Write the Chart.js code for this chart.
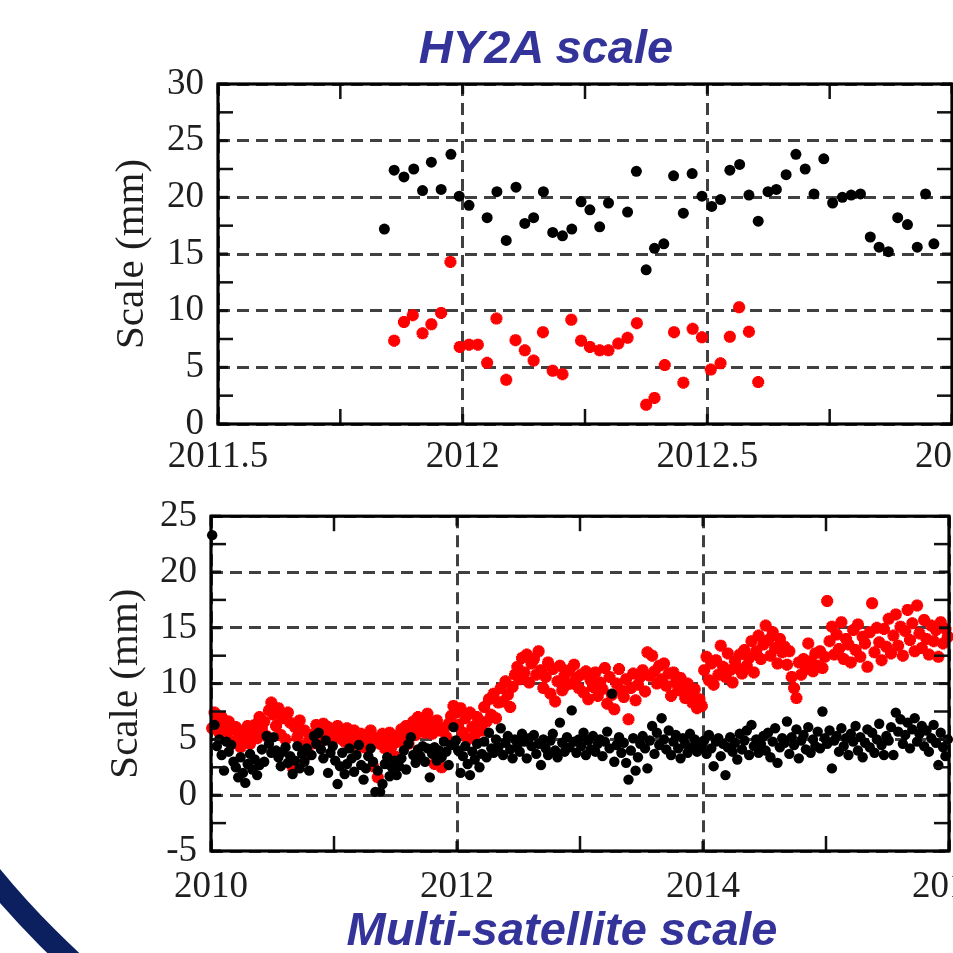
<!DOCTYPE html>
<html>
<head>
<meta charset="utf-8">
<script src="https://cdn.jsdelivr.net/npm/chart.js@4/dist/chart.umd.min.js"></script>
<style>
  html, body { margin: 0; padding: 0; background: #fff; width: 953px; height: 953px; overflow: hidden; }
  .wrap { position: absolute; left: 0; }
  .ttl { position: absolute; font-family: "Liberation Sans", Arial, sans-serif; font-weight: bold; font-style: italic;
         font-size: 47px; line-height: 47px; color: #333399; white-space: nowrap; transform: translateX(-50%); z-index: 5; }
  #deco { position: absolute; left: 0; top: 0; z-index: 6; pointer-events: none; }
</style>
</head>
<body>
<div class="ttl" style="left:546px; top:23px;">HY2A scale</div>
<div class="ttl" style="left:562px; top:905px;">Multi-satellite scale</div>
<div class="wrap" style="top:0"><canvas id="c1" width="1000" height="480"></canvas></div>
<div class="wrap" style="top:480px"><canvas id="c2" width="1000" height="473"></canvas></div>
<svg id="deco" width="953" height="953"><circle cx="635" cy="350" r="831" fill="none" stroke="#0c1f5e" stroke-width="22"/></svg>
<script>
// ---------------- HY2A scale (top panel) ----------------
const hyBlackDates = [2011.840,2011.860,2011.880,2011.900,2011.918,2011.936,2011.956,2011.976,2011.993,2012.013,
  2012.050,2012.070,2012.089,2012.109,2012.127,2012.145,2012.165,2012.184,2012.204,2012.223,
  2012.242,2012.260,2012.280,2012.298,2012.337,2012.355,2012.375,2012.392,2012.411,2012.431,
  2012.451,2012.469,2012.489,2012.509,2012.527,2012.546,2012.566,2012.585,2012.604,2012.624,
  2012.641,2012.661,2012.681,2012.700,2012.718,2012.738,2012.756,2012.776,2012.794,2012.813,
  2012.833,2012.851,2012.870,2012.889,2012.909,2012.929,2012.946,2012.963];
const hyBlackScale = [17.2,22.4,21.8,22.5,20.6,23.1,20.7,23.8,20.1,19.3,
  18.2,20.5,16.2,20.9,17.7,18.2,20.5,16.9,16.6,17.2,
  19.6,18.9,17.4,19.5,18.7,22.3,13.6,15.5,15.9,21.9,
  18.6,22.1,20.1,19.2,19.8,22.4,22.9,20.2,17.9,20.5,
  20.7,22.0,23.8,22.5,20.3,23.4,19.5,20.0,20.2,20.3,
  16.5,15.6,15.2,18.2,17.6,15.6,20.3,15.9];
const hyRedDates = [2011.860,2011.880,2011.898,2011.918,2011.936,2011.956,2011.975,2011.994,2012.013,2012.031,
  2012.050,2012.069,2012.089,2012.108,2012.127,2012.145,2012.164,2012.184,2012.204,2012.222,
  2012.242,2012.260,2012.280,2012.298,2012.318,2012.337,2012.356,2012.375,2012.392,2012.413,
  2012.432,2012.451,2012.470,2012.489,2012.507,2012.527,2012.546,2012.565,2012.585,2012.604];
const hyRedScale = [7.35,9.0,9.6,8.0,8.8,9.8,14.3,6.8,7.0,7.0,
  5.4,9.3,3.9,7.4,6.5,5.6,8.1,4.7,4.4,9.2,
  7.35,6.8,6.5,6.5,7.1,7.6,8.9,1.7,2.3,5.2,
  8.1,3.65,8.4,7.65,4.8,5.35,7.7,10.3,8.15,3.7];
const hyXTicksMinor = [2011.75, 2012.25, 2012.75];
const hyYTicksMinor = [2.5, 7.5, 12.5, 17.5, 22.5, 27.5];

// ---------------- Multi-satellite scale (bottom panel), weekly values per year ----------------
const msYears = [2010, 2011, 2012, 2013, 2014, 2015];
const msRed2010 = [6.0,7.4,6.8,5.6,7.0,6.3,5.4,6.6,5.9, 4.8,6.1,5.2,4.3,5.7,5.0,6.2,4.6,5.5, 6.3,5.1,7.0,6.0,6.6,5.3,7.6,8.3,
  7.2,6.2,7.8,5.4,6.9,5.0,7.4,6.5, 2.5,6.1,5.2,6.7,4.4,5.8,3.6,5.0, 4.6,5.5,6.3,5.9,4.8,6.4,5.7,6.1,5.2,5.8];
const msRed2011 = [5.7,6.2,5.1,5.6,4.8,6.0,5.4,4.5,5.8,5.2,4.9,5.5,4.3, 5.3,4.7,5.8,2.6,5.1,1.6,4.6,5.5,4.2,5.0,5.6,4.4,3.5,
  5.3,4.8,5.9,5.2,6.2,4.6,5.7,6.6,5.4,7.0,6.1,6.8,5.6, 7.3,6.4,5.5,2.8,6.7,5.8,2.5,6.0,5.2,6.4,7.1,8.0,7.4];
const msRed2012 = [6.3,7.8,5.6,6.9,5.0,7.4,6.1,5.4,7.0,6.5,5.8, 7.9,6.6,8.6,7.2,9.1,6.9,8.3,9.6, 8.4,10.2,9.0,7.9,9.7,10.8,
  11.5,10.4,12.3,11.0,12.6,10.1,11.8, 12.2,10.8,12.9,11.2,9.6,10.6,11.9, 9.1,11.3,8.4,10.2,11.6,9.4,10.8,9.9, 11.2,10.0,11.7,10.5,9.6];
const msRed2013 = [10.8,9.2,11.1,8.6,10.3,9.7,11.0,8.9,10.1, 9.5,11.4,8.2,10.6,9.0,7.7,10.0,11.3,9.4, 8.8,10.4,6.8,9.6,10.9,8.5,9.9,10.6,
  11.2,9.3,12.8,10.7,12.5,11.1,10.0,11.6, 10.4,11.8,9.8,10.9,8.9,11.0,10.1,9.4,10.5, 9.6,8.7,10.0,9.1,8.3,9.5,7.8,8.6,8.0];
const msRed2014 = [11.2,12.4,10.3,11.8,9.9,12.1,10.8,13.4,11.5, 10.6,12.7,11.2,10.1,12.0,11.4,12.6,10.9,13.0, 11.6,12.3,13.8,11.0,12.9,14.3,12.2,13.5,
  15.2,13.9,12.5,14.6,13.2,11.8,14.0,12.8, 13.3,11.7,12.9,10.6,9.6,8.7,11.9,10.8, 12.2,11.3,13.6,12.0,11.1,12.7,11.6,12.9,11.4,12.4];
const msRed2015 = [17.4,13.8,15.1,12.6,14.4,13.1,15.5,12.2,14.0, 13.5,11.9,14.8,13.0,15.3,12.4,14.2,13.6,11.5, 14.6,17.2,12.8,15.0,13.7,12.1,14.9,13.3,
  15.8,12.7,14.3,16.2,13.4,15.1,12.5,14.7, 16.6,13.9,15.4,12.9,17.0,14.5,13.2,15.7, 14.0,12.6,15.2,13.8,14.8,12.4,15.5,13.6,14.9,14.2];
const msBlack2010 = [23.3,6.3,4.4,5.0,3.6,2.2,4.8,3.9,4.5, 3.0,2.5,1.6,3.4,2.0,1.1,2.8,3.7,2.3, 3.2,1.8,2.7,4.1,3.0,5.3,4.6,3.8,
  5.2,4.0,3.4,2.6,3.9,4.3,2.9,3.5, 1.9,3.1,4.4,2.4,3.7,3.0,4.2,2.2, 3.6,5.3,4.6,5.6,4.1,3.3,4.9,2.0,3.8,4.4];
const msBlack2011 = [3.1,1.0,2.6,3.8,1.9,2.8,4.2,3.3,2.1,3.6,4.5,2.7,1.4, 2.4,3.5,4.2,3.0,0.3,2.2,0.3,1.0,2.8,3.4,1.7,2.5,3.1,
  1.8,2.6,3.3,4.0,2.3,4.6,5.2,3.6,2.9,4.1,3.5,4.4,3.0, 4.2,1.6,3.7,4.3,3.1,4.0,3.4,4.8,3.9,2.7,4.5,6.1,4.9];
const msBlack2012 = [4.0,2.0,3.5,4.4,2.8,1.8,3.9,3.2,4.6,2.5,3.7, 4.8,3.4,5.6,4.2,3.8,5.0,4.3,6.0, 3.6,4.7,5.3,4.1,3.3,5.0,
  4.5,3.9,5.5,4.8,3.3,5.1,4.4, 5.4,3.7,4.6,2.7,5.0,4.2,3.6, 4.9,5.5,4.0,3.4,6.5,4.7,3.9,5.2, 4.3,7.6,4.8,3.8,5.0];
const msBlack2013 = [4.4,5.6,3.6,4.9,4.1,5.3,3.9,4.6,5.0, 3.5,4.8,5.7,4.2,9.1,3.0,4.5,5.2,3.8, 4.7,2.9,1.4,4.0,5.1,2.2,3.4,4.6,
  5.3,4.2,2.4,4.9,6.2,3.7,5.6,4.5, 6.9,5.0,4.1,5.8,3.6,4.8,5.4,4.2,3.3, 5.1,4.6,3.8,5.5,4.3,5.0,3.9,4.7,4.4];
const msBlack2014 = [4.9,3.7,5.4,4.2,2.6,4.8,5.1,3.5,4.6, 1.8,4.3,5.2,3.9,4.7,3.2,5.5,4.1,4.9, 5.8,3.6,6.3,4.4,5.0,3.8,4.6,5.3,
  4.0,5.6,3.4,4.8,6.0,2.9,4.3,5.1, 4.7,6.6,3.7,5.2,4.5,5.9,3.3,4.9, 5.4,4.1,6.1,3.8,5.0,4.4,5.7,4.2,7.5,5.1];
const msBlack2015 = [4.6,5.8,2.4,4.9,5.3,3.9,6.0,4.4,5.1, 3.6,5.5,4.8,6.2,4.0,5.2,3.4,4.7,5.9, 4.3,5.6,3.8,5.0,6.4,4.5,3.6,5.3,
  4.9,6.1,3.6,7.4,5.7,6.8,4.6,5.4, 6.5,4.2,5.9,6.9,4.8,5.5,6.2,4.4, 5.8,3.9,5.1,6.3,4.7,2.7,5.6,4.3,3.5,5.0];
const msRedByYear = [msRed2010, msRed2011, msRed2012, msRed2013, msRed2014, msRed2015];
const msBlackByYear = [msBlack2010, msBlack2011, msBlack2012, msBlack2013, msBlack2014, msBlack2015];
const msXTicksMinor = [2011, 2013, 2015];
const msYTicksMinor = [-2.5, 2.5, 7.5, 12.5, 17.5, 22.5];

// ---------------- helpers ----------------
function pairPoints(dates, vals) { return dates.map((d, i) => ({ x: d, y: vals[i] })); }
function weeklyPoints(years, byYear) {
  const pts = [];
  years.forEach((yr, k) => { const v = byYear[k]; v.forEach((val, i) => pts.push({ x: yr + (i + 0.5) / v.length, y: val })); });
  return pts;
}

const frameTicks = {
  id: 'frameTicks',
  afterDatasetsDraw(chart, args, opts) {
    const { ctx, chartArea: a, scales: { x, y } } = chart;
    ctx.save();
    ctx.strokeStyle = '#111';
    ctx.lineWidth = 2.5;
    const L = opts.len;
    const seg = (x1, y1, x2, y2) => { ctx.beginPath(); ctx.moveTo(x1, y1); ctx.lineTo(x2, y2); ctx.stroke(); };
    opts.xMinor.forEach(v => { const p = x.getPixelForValue(v); seg(p, a.top, p, a.top + L); seg(p, a.bottom, p, a.bottom - L); });
    opts.yMinor.forEach(v => { const p = y.getPixelForValue(v); seg(a.left, p, a.left + L, p); seg(a.right, p, a.right - L, p); });
    ctx.lineWidth = 3;
    x.ticks.forEach(t => { const p = x.getPixelForValue(t.value); seg(p, a.top, p, a.top + 10); seg(p, a.bottom, p, a.bottom - 10); });
    y.ticks.forEach(t => { const p = y.getPixelForValue(t.value); seg(a.left, p, a.left + 10, p); seg(a.right, p, a.right - 10, p); });
    ctx.strokeStyle = '#000';
    ctx.lineWidth = 3.2;
    ctx.strokeRect(a.left, a.top, a.right - a.left, a.bottom - a.top);
    ctx.restore();
  }
};

const serif = "'Liberation Serif', 'Times New Roman', serif";

function makeOptions(cfg) {
  return {
    responsive: false,
    animation: false,
    events: [],
    layout: { padding: cfg.padding },
    plugins: { legend: { display: false }, tooltip: { enabled: false }, title: { display: false },
      frameTicks: { len: 15, xMinor: cfg.xMinor, yMinor: cfg.yMinor } },
    scales: {
      x: {
        type: 'linear', min: cfg.xmin, max: cfg.xmax,
        afterFit: s => { s.height = cfg.xAxisH; },
        ticks: { stepSize: cfg.xstep, autoSkip: false, maxRotation: 0, padding: cfg.xPad, color: '#1e1e1e',
                 font: { family: serif, size: 37 }, callback: v => String(v) },
        grid: { color: '#404040', lineWidth: 3, drawTicks: false },
        border: { display: false, dash: [12, 7] }
      },
      y: {
        type: 'linear', min: cfg.ymin, max: cfg.ymax,
        afterFit: s => { s.width = cfg.yAxisW; },
        ticks: { stepSize: 5, padding: 14, color: '#1e1e1e', font: { family: serif, size: 37 }, callback: v => String(v) },
        grid: { color: '#404040', lineWidth: 3, drawTicks: false },
        border: { display: false, dash: [12, 7] },
        title: { display: true, text: 'Scale (mm)', color: '#1e1e1e', font: { family: serif, size: 41 },
                 padding: { top: cfg.titlePad, bottom: 0 } }
      }
    }
  };
}

new Chart(document.getElementById('c1'), {
  type: 'scatter',
  data: {
    datasets: [
      { data: pairPoints(hyBlackDates, hyBlackScale), pointStyle: 'circle', pointRadius: 5.5,
        pointBackgroundColor: '#000', pointBorderColor: '#000', pointBorderWidth: 0, clip: 8 },
      { data: pairPoints(hyRedDates, hyRedScale), pointStyle: 'star', pointRadius: 6,
        pointBackgroundColor: '#ff0000', pointBorderColor: '#ff0000', pointBorderWidth: 4, clip: 8 }
    ]
  },
  options: makeOptions({ padding: { left: 0, top: 84, right: 32, bottom: 0 }, xAxisH: 56, yAxisW: 218,
    xmin: 2011.5, xmax: 2013, xstep: 0.5, ymin: 0, ymax: 30, xPad: 11, titlePad: 108,
    xMinor: hyXTicksMinor, yMinor: hyYTicksMinor }),
  plugins: [frameTicks]
});

new Chart(document.getElementById('c2'), {
  type: 'scatter',
  data: {
    datasets: [
      { data: weeklyPoints(msYears, msBlackByYear), pointStyle: 'circle', pointRadius: 5.2,
        pointBackgroundColor: '#000', pointBorderColor: '#000', pointBorderWidth: 0, clip: 8 },
      { data: weeklyPoints(msYears, msRedByYear), pointStyle: 'star', pointRadius: 6,
        pointBackgroundColor: '#ff0000', pointBorderColor: '#ff0000', pointBorderWidth: 4, clip: 8 }
    ]
  },
  options: makeOptions({ padding: { left: 0, top: 25, right: 45, bottom: 0 }, xAxisH: 102, yAxisW: 211,
    xmin: 2010, xmax: 2016, xstep: 2, ymin: -5, ymax: 25, xPad: 14, titlePad: 102,
    xMinor: msXTicksMinor, yMinor: msYTicksMinor }),
  plugins: [frameTicks]
});
</script>
</body>
</html>
